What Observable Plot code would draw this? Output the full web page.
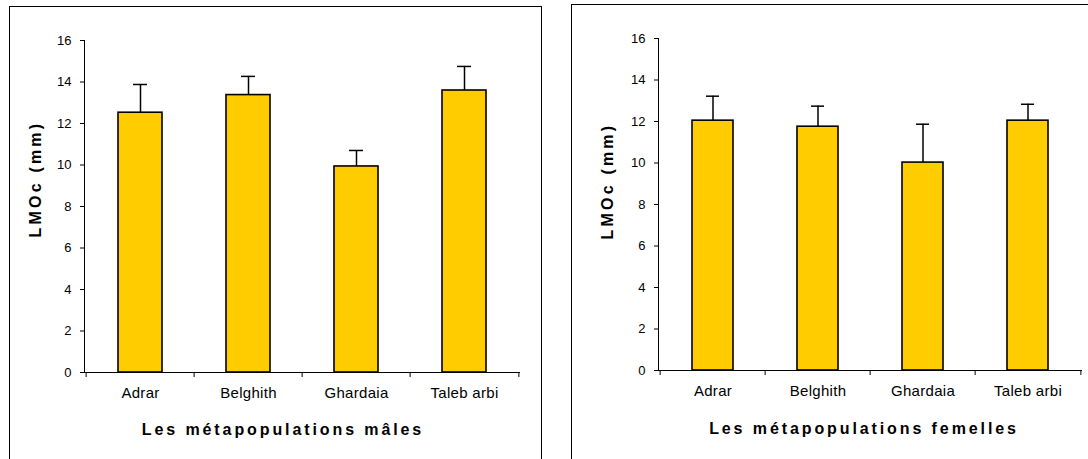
<!DOCTYPE html>
<html>
<head>
<meta charset="utf-8">
<script src="https://cdn.jsdelivr.net/npm/d3@7"></script>
<script src="https://cdn.jsdelivr.net/npm/@observablehq/plot@0.6"></script>
<style>
  html, body { margin: 0; padding: 0; background: #fff; overflow: hidden; }
  #page { position: relative; width: 1088px; height: 459px; overflow: hidden; background: #fff; }
  .panel { position: absolute; top: 0; }
  .box { position: absolute; border: 1px solid #000; box-sizing: border-box; pointer-events: none; z-index: 2; }
</style>
</head>
<body>
<div id="page">
  <div id="left" class="panel" style="left:0px;"></div>
  <div id="right" class="panel" style="left:544px;"></div>
  <div class="box" style="left:9px; top:6px; width:533px; height:480px; border-bottom:none;"></div>
  <div class="box" style="left:571px; top:4px; width:540px; height:480px; border-bottom:none; border-right:none;"></div>
</div>
<script>
const categories = ["Adrar", "Belghith", "Ghardaia", "Taleb arbi"];
const maleMeans = [12.52, 13.37, 9.93, 13.59];
const maleErrors = [1.36, 0.90, 0.77, 1.16];
const femaleMeans = [12.04, 11.75, 10.02, 12.04];
const femaleErrors = [1.18, 0.99, 1.85, 0.79];
const yTicks = [0, 2, 4, 6, 8, 10, 12, 14, 16];
const yTitle = "LMOc (mm)";
const maleTitle = "Les métapopulations mâles";
const femaleTitle = "Les métapopulations femelles";

function makeChart(means, errors, title, cfg) {
  const data = categories.map((c, i) => ({cat: c, value: means[i], upper: means[i] + errors[i]}));
  const step = (cfg.width - cfg.marginLeft - cfg.marginRight) / categories.length;
  const svg = Plot.plot({
    width: cfg.width,
    height: 459,
    marginLeft: cfg.marginLeft,
    marginRight: cfg.marginRight,
    marginTop: cfg.marginTop,
    marginBottom: cfg.marginBottom,
    style: {fontFamily: "'Liberation Sans', Arial, sans-serif", color: "#000", background: "transparent"},
    x: {domain: categories, padding: 0, axis: null},
    y: {domain: [0, 16], axis: null},
    marks: [
      Plot.barY(data, {x: "cat", y: "value", fill: "#FFCC00", stroke: "#000", strokeWidth: 1.6, insetLeft: cfg.barInset, insetRight: cfg.barInset}),
      Plot.ruleX(data, {x: "cat", y1: "value", y2: "upper", stroke: "#000", strokeWidth: 1.5}),
      Plot.tickY(data, {x: "cat", y: "upper", stroke: "#000", strokeWidth: 1.5, insetLeft: cfg.capInset, insetRight: cfg.capInset}),
      Plot.frame({anchor: "left", stroke: "#000", strokeWidth: 1}),
      Plot.frame({anchor: "bottom", stroke: "#000", strokeWidth: 1}),
      Plot.axisY(yTicks, {anchor: "left", tickSize: 4, tickPadding: 9, fontSize: 13, label: null, stroke: "#000", fill: "#000"}),
      Plot.axisX(categories, {anchor: "bottom", tickSize: 5, tickFormat: () => "", dx: -step / 2, label: null, stroke: "#000"}),
      Plot.axisX([categories[categories.length - 1]], {anchor: "bottom", tickSize: 5, tickFormat: () => "", dx: step / 2, label: null, stroke: "#000"}),
      Plot.axisX(categories, {anchor: "bottom", tickSize: 0, tickPadding: 15, fontSize: 15, label: null, fill: "#000"}),
      Plot.text([title], {frameAnchor: "bottom", dx: cfg.titleDx, dy: cfg.titleDy, fontSize: 16, fontWeight: "bold", fill: "#000", lineAnchor: "middle"}),
      Plot.text([yTitle], {frameAnchor: "left", rotate: -90, dx: cfg.yTitleDx, dy: cfg.yTitleDy, fontSize: 16, fontWeight: "bold", fill: "#000", lineAnchor: "middle"})
    ]
  });
  d3.select(svg).selectAll("text").each(function () {
    const t = this.textContent;
    const sel = d3.select(this);
    if (categories.includes(t)) sel.attr("font-size", 15).attr("letter-spacing", "0.3px");
    else if (t === title) sel.attr("font-size", 16).attr("letter-spacing", "2.9px");
    else if (t === yTitle) sel.attr("font-size", 16).attr("letter-spacing", "3.2px");
    else if (t !== "") sel.attr("font-size", 13);
  });
  return svg;
}

const left = makeChart(maleMeans, maleErrors, maleTitle, {
  width: 544, marginLeft: 84, marginRight: 25, marginTop: 40, marginBottom: 87,
  barInset: 32, capInset: 47, titleDx: -19, titleDy: 57, yTitleDx: -49, yTitleDy: 31
});
const right = makeChart(femaleMeans, femaleErrors, femaleTitle, {
  width: 544, marginLeft: 114, marginRight: 7, marginTop: 38, marginBottom: 89,
  barInset: 32, capInset: 46, titleDx: -6, titleDy: 58, yTitleDx: -51, yTitleDy: 35
});
document.getElementById("left").appendChild(left);
document.getElementById("right").appendChild(right);
</script>
</body>
</html>
